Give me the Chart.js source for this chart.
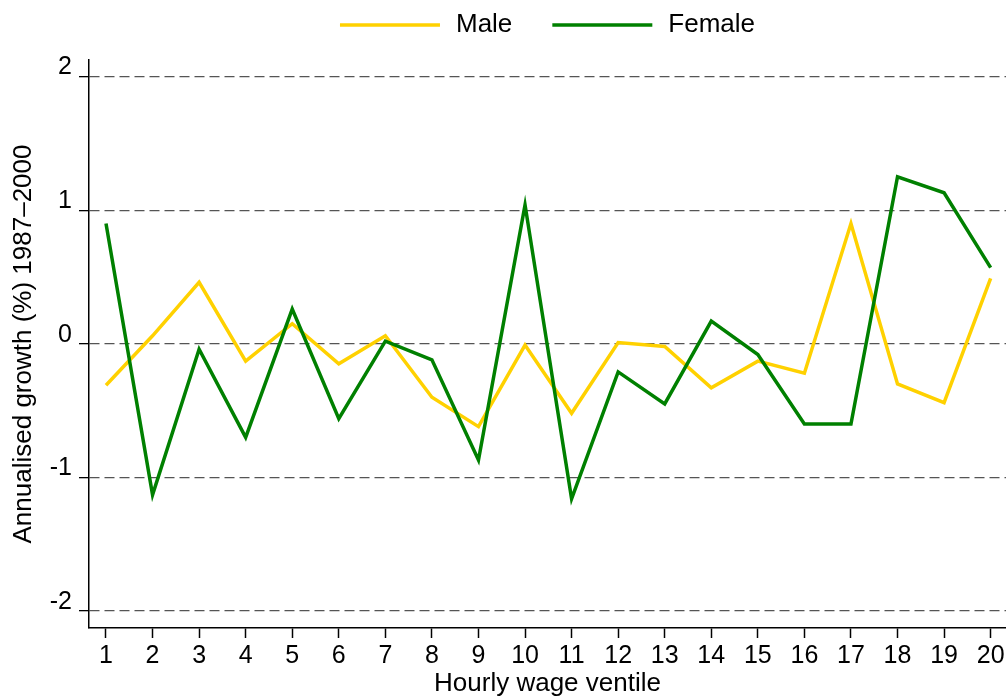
<!DOCTYPE html>
<html lang="en">
<head>
    <meta charset="UTF-8">
    <title>Annualised wage growth by ventile</title>
    <script src="https://cdn.jsdelivr.net/npm/chart.js"></script>
    <style>
        body { margin: 0; background: #fff; }
        #wrap { width: 1006px; height: 699px; }
    </style>
</head>
<body>
    <div id="wrap">
        <canvas id="growthChart" width="1006" height="699"></canvas>
    </div>

    <script>
        // values
        const ventiles = [1, 2, 3, 4, 5, 6, 7, 8, 9, 10, 11, 12, 13, 14, 15, 16, 17, 18, 19, 20];
        const maleGrowth = [-0.31, 0.06, 0.46, -0.13, 0.15, -0.15, 0.06, -0.40, -0.62, -0.01,
                            -0.52, 0.01, -0.02, -0.33, -0.13, -0.22, 0.90, -0.30, -0.44, 0.49];
        const femaleGrowth = [0.90, -1.13, -0.04, -0.70, 0.26, -0.56, 0.02, -0.12, -0.87, 1.04,
                              -1.16, -0.21, -0.45, 0.17, -0.08, -0.60, -0.60, 1.25, 1.13, 0.57];
        const yTicks = [-2, -1, 0, 1, 2];
        const seriesNames = ['Male', 'Female'];
        const seriesColors = ['#FFD100', '#008000'];

        function toPoints(values) {
            return ventiles.map((v, i) => ({ x: v, y: values[i] }));
        }

        // legend drawn by hand so it sits where the original puts it
        const topLegend = {
            id: 'topLegend',
            afterDraw(chart) {
                const ctx = chart.ctx;
                const lineLen = 100, gap = 16, itemGap = 40, y = 25;
                ctx.save();
                ctx.font = '26px Arial, "Liberation Sans", sans-serif';
                const widths = seriesNames.map(n => lineLen + gap + ctx.measureText(n).width);
                const total = widths.reduce((a, b) => a + b, 0) + itemGap * (widths.length - 1);
                const area = chart.chartArea;
                let x = (area.left + area.right) / 2 - total / 2;
                seriesNames.forEach((name, i) => {
                    ctx.strokeStyle = seriesColors[i];
                    ctx.lineWidth = 3.5;
                    ctx.beginPath();
                    ctx.moveTo(x, y);
                    ctx.lineTo(x + lineLen, y);
                    ctx.stroke();
                    ctx.fillStyle = '#000';
                    ctx.textBaseline = 'middle';
                    ctx.fillText(name, x + lineLen + gap, y);
                    x += widths[i] + itemGap;
                });
                ctx.restore();
            }
        };

        const ctx = document.getElementById('growthChart').getContext('2d');
        new Chart(ctx, {
            type: 'line',
            data: {
                datasets: [{
                    label: seriesNames[0],
                    data: toPoints(maleGrowth),
                    borderColor: seriesColors[0],
                    backgroundColor: seriesColors[0],
                    borderWidth: 3.5,
                    pointRadius: 0,
                    tension: 0,
                    borderJoinStyle: 'miter',
                    order: 1
                }, {
                    label: seriesNames[1],
                    data: toPoints(femaleGrowth),
                    borderColor: seriesColors[1],
                    backgroundColor: seriesColors[1],
                    borderWidth: 3.5,
                    pointRadius: 0,
                    tension: 0,
                    borderJoinStyle: 'miter',
                    order: 0
                }]
            },
            plugins: [topLegend],
            options: {
                responsive: false,
                animation: false,
                layout: { padding: { top: 60, left: 0, right: 0, bottom: 0 } },
                plugins: {
                    legend: { display: false },
                    tooltip: { enabled: false }
                },
                scales: {
                    x: {
                        type: 'linear',
                        min: 0.635,
                        max: 20.33,
                        afterBuildTicks: (scale) => {
                            scale.ticks = ventiles.map(v => ({ value: v }));
                        },
                        afterFit: (scale) => {
                            scale.height = 71;
                            scale.paddingLeft = 0;
                            scale.paddingRight = 0;
                        },
                        grid: {
                            drawOnChartArea: false,
                            tickLength: 10,
                            tickColor: '#000',
                            tickWidth: 1.5
                        },
                        border: { color: '#000', width: 1.5 },
                        ticks: {
                            color: '#000',
                            padding: 3,
                            maxRotation: 0,
                            autoSkip: false,
                            font: { family: 'Arial, "Liberation Sans", sans-serif', size: 25 }
                        },
                        title: {
                            display: true,
                            text: 'Hourly wage ventile',
                            color: '#000',
                            padding: { top: 0, bottom: 0 },
                            font: { family: 'Arial, "Liberation Sans", sans-serif', size: 26 }
                        }
                    },
                    y: {
                        min: -2.127,
                        max: 2.124,
                        afterBuildTicks: (scale) => {
                            scale.ticks = yTicks.map(v => ({ value: v }));
                        },
                        afterFit: (scale) => {
                            scale.width = 89;
                            scale.paddingTop = 0;
                            scale.paddingBottom = 0;
                        },
                        grid: {
                            color: '#555',
                            lineWidth: 1.3,
                            tickLength: 10,
                            tickColor: '#000',
                            tickWidth: 1.3
                        },
                        border: { color: '#000', width: 1.5, dash: [10, 5] },
                        ticks: {
                            color: '#000',
                            padding: 7,
                            // second empty line lifts the label so it sits on the gridline
                            callback: (value) => [String(value), ''],
                            font: { family: 'Arial, "Liberation Sans", sans-serif', size: 25, lineHeight: 0.72 }
                        },
                        title: {
                            display: true,
                            text: 'Annualised growth (%) 1987\u20132000',
                            color: '#000',
                            padding: { top: 8, bottom: 0 },
                            font: { family: 'Arial, "Liberation Sans", sans-serif', size: 26 }
                        }
                    }
                }
            }
        });
    </script>
</body>
</html>
